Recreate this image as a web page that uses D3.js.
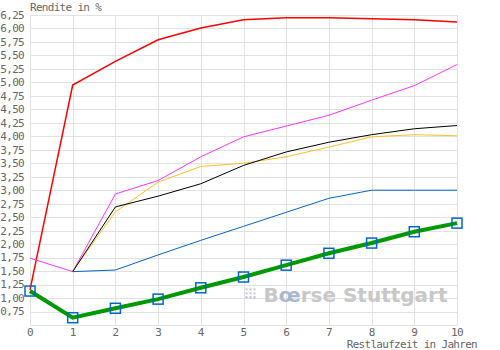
<!DOCTYPE html>
<html>
<head>
<meta charset="utf-8">
<script src="https://cdn.jsdelivr.net/npm/d3@7"></script>
<style>
    body { margin: 0; background: #fff; }
    text { font-family: "DejaVu Sans Mono", monospace; font-size: 11px; letter-spacing: -0.7px; fill: #666; }
</style>
</head>
<body>
<div id="chart"></div>
<script>
// Restlaufzeit (years)
const years = [0, 1, 2, 3, 4, 5, 6, 7, 8, 9, 10];
const yTicks = [0.75, 1.0, 1.25, 1.5, 1.75, 2.0, 2.25, 2.5, 2.75, 3.0, 3.25, 3.5, 3.75, 4.0,
                4.25, 4.5, 4.75, 5.0, 5.25, 5.5, 5.75, 6.0, 6.25];

// yield curves (null = no value)
const redValues     = [1.15, 4.95, 5.39, 5.79, 6.01, 6.16, 6.20, 6.20, 6.18, 6.16, 6.12];
const magentaValues = [1.74, 1.49, 2.93, 3.18, 3.62, 3.99, 4.19, 4.39, 4.67, 4.94, 5.33];
const blackValues   = [null, 1.49, 2.69, 2.89, 3.12, 3.46, 3.71, 3.89, 4.03, 4.14, 4.20];
const yellowValues  = [null, 1.50, 2.60, 3.15, 3.44, 3.50, 3.62, 3.80, 3.99, 4.03, 4.01];
const blueValues    = [null, 1.49, 1.52, 1.80, 2.07, 2.33, 2.59, 2.85, 3.00, 3.00, 3.00];
const greenValues   = [1.13, 0.635, 0.81, 0.98, 1.19, 1.39, 1.61, 1.83, 2.02, 2.23, 2.39];

const series = [
    {name: "red", values: redValues, color: "#ff0000", width: 1.5},
    {name: "magenta", values: magentaValues, color: "#ff33ff", width: 1},
    {name: "yellow", values: yellowValues, color: "#ffc020", width: 1},
    {name: "black", values: blackValues, color: "#000000", width: 1},
    {name: "blue", values: blueValues, color: "#0066cc", width: 1},
    {name: "green", values: greenValues, color: "#009900", width: 4}
];

let margin = {top: 15, right: 43, bottom: 25, left: 30};
let width = 500 - margin.left - margin.right,
    height = 350 - margin.top - margin.bottom;

let svg = d3.select("#chart").append("svg")
    .attr("width", 500)
    .attr("height", 350);

let g = svg.append("g")
    .attr("transform", "translate(" + margin.left + "," + margin.top + ")");

let x = d3.scaleLinear().domain([0, 10]).range([0, width]);
let y = d3.scaleLinear().domain([0.5, 6.25]).range([height, 0]);

// grid
g.selectAll(".hgrid")
    .data(yTicks.concat([0.5]))
    .enter().append("line")
    .attr("x1", 0).attr("x2", width)
    .attr("y1", d => Math.round(y(d)) + 0.5).attr("y2", d => Math.round(y(d)) + 0.5)
    .attr("stroke", "#e2e2e2");

g.selectAll(".vgrid")
    .data(years)
    .enter().append("line")
    .attr("x1", d => Math.round(x(d)) + 0.5).attr("x2", d => Math.round(x(d)) + 0.5)
    .attr("y1", 0).attr("y2", height)
    .attr("stroke", "#e2e2e2");

// watermark
let wm = g.append("g").attr("class", "watermark");
for (let i = 0; i < 3; i++) {
    for (let j = 0; j < 3; j++) {
        wm.append("rect")
            .attr("x", x(5) + 2 + i * 4).attr("y", y(1.18) + j * 4)
            .attr("width", 2).attr("height", 2)
            .attr("fill", j == 2 ? "#a8b8d0" : "#c8c8c8");
    }
}
let wmText = wm.append("text")
    .attr("x", x(5) + 20).attr("y", y(0.93))
    .style("font-family", "'DejaVu Sans', sans-serif")
    .style("font-size", "20px")
    .style("letter-spacing", "0px")
    .style("font-weight", "bold")
    .style("fill", "#c8c8c8");
wmText.append("tspan").text("B");
wmText.append("tspan").style("fill", "#a8b8d0").text("œ");
wmText.append("tspan").text("rse Stuttgart");

// lines
let line = d3.line()
    .defined(d => d.value != null)
    .x(d => x(d.year))
    .y(d => y(d.value));

series.forEach(function (s) {
    let data = years.map((yr, i) => ({year: yr, value: s.values[i]}));
    g.append("path")
        .datum(data)
        .attr("fill", "none")
        .attr("stroke", s.color)
        .attr("stroke-width", s.width)
        .attr("d", line);
});

// markers on the green curve
g.selectAll(".marker")
    .data(years.map((yr, i) => ({year: yr, value: greenValues[i]})))
    .enter().append("rect")
    .attr("x", d => x(d.year) - 5)
    .attr("y", d => y(d.value) - 5)
    .attr("width", 10).attr("height", 10)
    .attr("fill", "none")
    .attr("stroke", "#0066cc")
    .attr("stroke-width", 1.5);

// axis labels
let fmt = d3.format(".2f");
g.selectAll(".ylabel")
    .data(yTicks)
    .enter().append("text")
    .attr("x", -6)
    .attr("y", d => y(d))
    .attr("dy", "0.35em")
    .attr("text-anchor", "end")
    .text(d => fmt(d).replace(".", ","));

g.selectAll(".xlabel")
    .data(years)
    .enter().append("text")
    .attr("x", d => x(d))
    .attr("y", height + 11)
    .attr("text-anchor", "middle")
    .text(d => d);

svg.append("text")
    .attr("x", 30).attr("y", 11)
    .text("Rendite in %");

svg.append("text")
    .attr("x", 477).attr("y", 348)
    .attr("text-anchor", "end")
    .text("Restlaufzeit in Jahren");
</script>
</body>
</html>
